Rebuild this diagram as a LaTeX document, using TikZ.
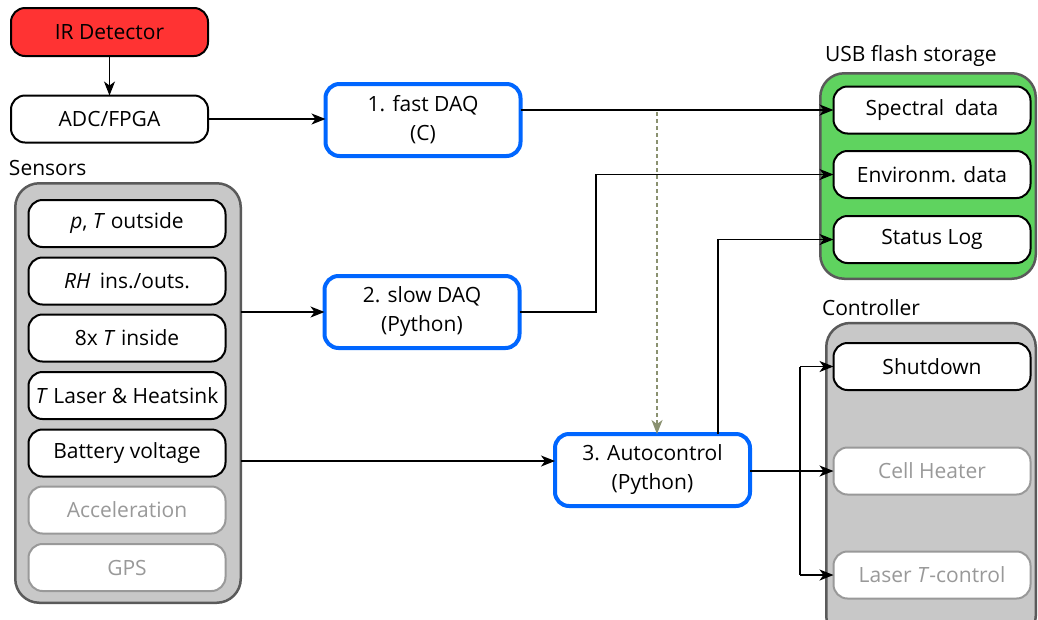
\documentclass[tikz,border=0pt]{standalone}
\usepackage{fontspec}
\setmainfont{Open Sans}
\usetikzlibrary{arrows.meta}
\definecolor{blueb}{HTML}{0066FF}
\definecolor{redf}{HTML}{FF3333}
\definecolor{greenf}{HTML}{5FD35F}
\definecolor{grayf}{HTML}{C8C8C8}
\definecolor{grpb}{HTML}{5A5A5A}
\definecolor{ghostc}{HTML}{999999}
\definecolor{olive}{HTML}{8A9170}
\begin{document}
\begin{tikzpicture}[x=1pt,y=-1pt,
  font=\fontsize{21}{29}\selectfont,
  every node/.style={inner sep=0pt, outer sep=0pt},
  box/.style={draw=black, line width=2pt, rounded corners=14pt, fill=white,
    minimum width=197pt, minimum height=47pt, align=center},
  ghost/.style={box, draw=ghostc, text=ghostc},
  proc/.style={draw=blueb, line width=4pt, rounded corners=14pt, fill=white,
    minimum width=195pt, minimum height=72pt, align=center},
  grp/.style={draw=grpb, line width=2.5pt, rounded corners=24pt},
  conn/.style={line width=1.4pt, draw=black, -{Stealth[length=14pt,width=11pt,inset=4pt]}},
  plain/.style={line width=1.4pt, draw=black},
  dconn/.style={line width=1.3pt, draw=olive, dash pattern=on 4pt off 3pt,
    -{Stealth[length=14pt,width=11pt,inset=4pt,fill=olive]}},
  lbl/.style={anchor=west}
]
\useasboundingbox (0,0) rectangle (1038,619);
\clip (0,0) rectangle (1038,619);

% groups
\node[grp, fill=grayf, minimum width=225.5pt, minimum height=419.5pt] (sensors) at (128,393) {};
\node[grp, fill=greenf, minimum width=215.5pt, minimum height=205.5pt] (usb) at (928,176) {};
\node[grp, fill=grayf, minimum width=209.5pt, minimum height=317pt] (ctrl) at (931,481.5) {};

% group labels
\node[lbl] (senslbl) at (9,168) {Sensors};
\node[lbl] (usblbl) at (825,56) {USB flash storage};
\node[lbl] (ctrllbl) at (822,308) {Controller};

% top-left chain
\node[box, fill=redf, minimum height=48pt] (ir) at (109.5,32) {IR Detector};
\node[box] (adc) at (109.5,119) {ADC/FPGA};

% sensors
\node[box] (s1) at (127,223.5) {\textit{p}, \textit{T} outside};
\node[box] (s2) at (127,281) {\textit{RH}\hskip0.45em ins./outs.};
\node[box] (s3) at (127,338) {8x \textit{T} inside};
\node[box] (s4) at (127,395.5) {\textit{T} Laser \& Heatsink};
\node[box] (s5) at (127,453) {Battery voltage};
\node[ghost] (s6) at (127,510) {Acceleration};
\node[ghost] (s7) at (127,567.5) {GPS};

% processes
\node[proc] (fast) at (423,120) {1. fast DAQ\\(C)};
\node[proc] (slow) at (422,312) {2. slow DAQ\\(Python)};
\node[proc] (auto) at (652.5,470) {3. Autocontrol\\(Python)};

% storage
\node[box] (spec) at (932,110) {Spectral\hskip0.5em data};
\node[box] (env) at (932,174.5) {Environm. data};
\node[box] (status) at (932,239.5) {Status Log};

% controller
\node[box] (shut) at (932,366.5) {Shutdown};
\node[ghost] (cell) at (932,471) {Cell Heater};
\node[ghost] (laser) at (932,575) {Laser \textit{T}-control};

% helper coordinates
\coordinate (batlvl) at (0,461);
\coordinate (envx) at (596,0);
\coordinate (stx) at (718,0);
\coordinate (bx) at (800,0);
\coordinate (dtop) at (657,112);

% connectors
\draw[conn] (ir.south) -- (adc.north);
\draw[conn] (adc.east) -- (adc.east -| fast.west);
\draw[conn] (fast.east |- spec.west) -- (spec.west);
\draw[conn] (sensors.east |- slow.west) -- (slow.west);
\draw[conn] (slow.east) -- (envx |- slow.east) -- (envx |- env.west) -- (env.west);
\draw[conn] (sensors.east |- batlvl) -- (auto.west |- batlvl);
\draw[conn] (stx |- auto.north) -- (stx |- status.west) -- (status.west);
\draw[dconn] (dtop) -- (dtop |- auto.north);
\draw[conn] (auto.east |- cell.west) -- (cell.west);
\draw[plain] (bx |- shut.west) -- (bx |- laser.west);
\draw[conn] (bx |- shut.west) -- (shut.west);
\draw[conn] (bx |- laser.west) -- (laser.west);
\end{tikzpicture}
\end{document}
